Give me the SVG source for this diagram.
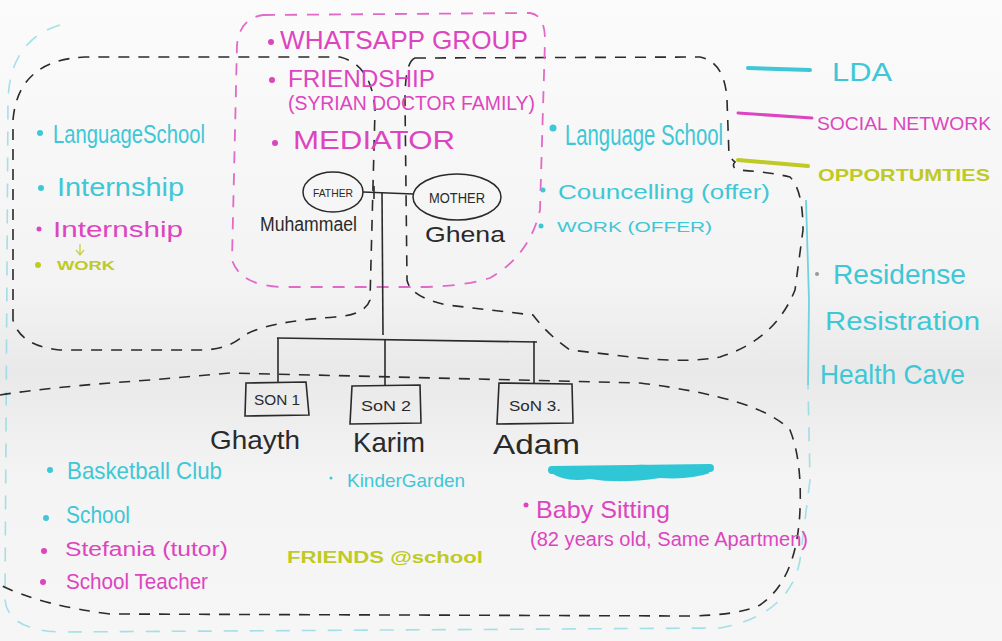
<svg xmlns="http://www.w3.org/2000/svg" width="1002" height="641" viewBox="0 0 1002 641">
<defs>
<linearGradient id="bg" x1="0" y1="0" x2="0" y2="1">
<stop offset="0" stop-color="#fbfbfb"/>
<stop offset="0.45" stop-color="#f3f3f3"/>
<stop offset="0.58" stop-color="#e9e9e9"/>
<stop offset="0.75" stop-color="#f4f4f4"/>
<stop offset="1" stop-color="#f6f6f6"/>
</linearGradient>
<style>
text{font-family:"Liberation Sans","DejaVu Sans",sans-serif;}
.c{fill:#3ec7d6;}
.p{fill:#dd45c0;}
.o{fill:#bfca24;}
.k{fill:#2a2a2a;}
.mid{text-anchor:middle;}
.dk{fill:none;stroke:#2a2a2a;stroke-width:1.6;stroke-dasharray:11 9;}
.dp{fill:none;stroke:#e06ac8;stroke-width:1.8;stroke-dasharray:12 10;}
.dc{fill:none;stroke:#7fd6e0;stroke-width:1.6;stroke-dasharray:14 12;opacity:0.7;}
.ln{fill:none;stroke:#2a2a2a;stroke-width:1.6;}
.box{fill:none;stroke:#2a2a2a;stroke-width:1.6;}
</style>
</defs>
<rect x="0" y="0" width="1002" height="641" fill="url(#bg)"/>

<g id="connectors">
<!-- outer LDA outline -->
<path class="dc" d="M60,25 Q10,40 8,100 L5,600 Q8,630 60,632 L720,628 Q790,615 800,560 L810,480 L808,385"/>
<path d="M806,200 L809,300 L808,385" fill="none" stroke="#6fd3de" stroke-width="1.8"/>
<!-- left (father) blob -->
<path class="dk" d="M13,320 L13,120 Q18,60 85,57 L340,57 Q372,65 375,110 L370,300 Q365,315 335,317 Q265,322 243,336 Q228,350 200,350 L60,350 Q20,346 13,320 Z"/>
<!-- right (mother) blob -->
<path class="dk" d="M415,58 L700,57 Q725,62 727,100 L729,155 Q732,160 735,162 Q731,166 737,170 Q770,172 790,177 Q803,190 803,230 L795,290 Q775,340 720,357 Q690,363 640,358 L570,350 Q548,335 533,315 L447,305 Q410,297 407,280 L405,100 Q405,62 415,58 Z"/>
<!-- sons blob -->
<path class="dk" d="M0,395 Q50,387 150,380 L230,373 L640,383 Q760,398 790,430 Q802,460 800,510 Q797,580 760,605 Q740,615 690,616 L110,614 Q40,605 0,585"/>
<!-- social network box -->
<path class="dp" d="M263,15 L530,13 Q545,15 545,40 L540,210 Q530,255 490,278 Q460,287 420,287 L280,287 Q240,285 232,260 L237,45 Q240,18 263,15 Z"/>
<!-- family tree lines -->
<path class="ln" d="M363,192 L413,194"/>
<path class="ln" d="M374,186 L374,199"/>
<path class="ln" d="M382,193 L383,335"/>
<path class="ln" d="M277,338 L537,342"/>
<path class="ln" d="M278,338 L278,383"/>
<path class="ln" d="M385,339 L385,386"/>
<path class="ln" d="M534,341 L534,383"/>
<!-- legend lines -->
<path d="M748,68 L810,70" stroke="#3ec7d6" stroke-width="4" stroke-linecap="round"/>
<path d="M738,113 L812,118" stroke="#dd45c0" stroke-width="3" stroke-linecap="round"/>
<path d="M738,160 L808,166" stroke="#bfca24" stroke-width="4" stroke-linecap="round"/>
<!-- small arrow internship -> work -->
<path d="M80,244 L80,254 M76,250 L80,255 L84,250" fill="none" stroke="#c9cf4a" stroke-width="1.3"/>
<!-- crossed out text scribble -->
<path d="M550,472 Q580,462 610,469 Q640,461 670,468 Q695,463 710,473 Q690,480 660,478 Q620,484 590,479 Q565,483 550,472 Z" fill="#2fc6d6"/>
<path d="M552,470 L710,468" stroke="#2fc6d6" stroke-width="8" stroke-linecap="round"/>
</g>

<g id="father">
<ellipse cx="333" cy="192" rx="30" ry="20" fill="none" stroke="#2a2a2a" stroke-width="1.5"/>
<text class="k mid" x="333" y="197" font-size="11" textLength="40" lengthAdjust="spacingAndGlyphs">FATHER</text>
<text class="k" x="260" y="231" font-size="20" textLength="97" lengthAdjust="spacingAndGlyphs">Muhammael</text>
</g>
<g id="mother">
<ellipse cx="457" cy="197" rx="44" ry="23" fill="none" stroke="#2a2a2a" stroke-width="1.5"/>
<text class="k mid" x="457" y="203" font-size="15" textLength="56" lengthAdjust="spacingAndGlyphs">MOTHER</text>
<text class="k" x="425" y="242" font-size="22" textLength="80" lengthAdjust="spacingAndGlyphs">Ghena</text>
</g>
<g id="son1">
<path class="box" d="M246,383 L306,382 L309,415 L245,416 Z"/>
<text class="k mid" x="277" y="405" font-size="14" textLength="46" lengthAdjust="spacingAndGlyphs">SON 1</text>
<text class="k" x="210" y="449" font-size="26" textLength="90" lengthAdjust="spacingAndGlyphs">Ghayth</text>
</g>
<g id="son2">
<path class="box" d="M352,386 L420,385 L421,423 L350,424 Z"/>
<text class="k mid" x="386" y="411" font-size="15" textLength="50" lengthAdjust="spacingAndGlyphs">SoN 2</text>
<text class="k" x="353" y="452" font-size="28" textLength="72" lengthAdjust="spacingAndGlyphs">Karim</text>
</g>
<g id="son3">
<path class="box" d="M499,383 L572,384 L573,423 L497,424 Z"/>
<text class="k mid" x="535" y="411" font-size="15" textLength="52" lengthAdjust="spacingAndGlyphs">SoN 3.</text>
<text class="k" x="493" y="454" font-size="28" textLength="87" lengthAdjust="spacingAndGlyphs">Adam</text>
</g>

<g id="father-network">
<circle class="c" cx="40" cy="133" r="3"/>
<text class="c" x="53" y="143" font-size="26" textLength="152" lengthAdjust="spacingAndGlyphs">LanguageSchool</text>
<circle class="c" cx="41" cy="188" r="3"/>
<text class="c" x="57" y="196" font-size="26" textLength="127" lengthAdjust="spacingAndGlyphs">Internship</text>
<circle class="p" cx="39" cy="229" r="2.5"/>
<text class="p" x="53" y="237" font-size="22" textLength="130" lengthAdjust="spacingAndGlyphs">Internship</text>
<circle class="o" cx="38" cy="265" r="3"/>
<text class="o" x="57" y="270" font-size="12" font-weight="bold" textLength="58" lengthAdjust="spacingAndGlyphs">WORK</text>
</g>

<g id="social-network">
<circle class="p" cx="271" cy="42" r="3"/>
<text class="p" x="280" y="49" font-size="26" textLength="248" lengthAdjust="spacingAndGlyphs">WHATSAPP GROUP</text>
<circle class="p" cx="272" cy="80" r="3"/>
<text class="p" x="288" y="87" font-size="24" textLength="147" lengthAdjust="spacingAndGlyphs">FRIENDSHIP</text>
<text class="p" x="288" y="110" font-size="20" textLength="247" lengthAdjust="spacingAndGlyphs">(SYRIAN DOCTOR FAMILY)</text>
<circle class="p" cx="275" cy="143" r="3"/>
<text class="p" x="293" y="149" font-size="26" textLength="162" lengthAdjust="spacingAndGlyphs">MEDIATOR</text>
</g>

<g id="mother-network">
<circle class="c" cx="553" cy="128" r="3.5"/>
<text class="c" x="565" y="145" font-size="30" textLength="158" lengthAdjust="spacingAndGlyphs">Language School</text>
<circle class="c" cx="543" cy="190" r="2.5"/>
<text class="c" x="558" y="199" font-size="20" textLength="212" lengthAdjust="spacingAndGlyphs">Councelling (offer)</text>
<circle class="c" cx="541" cy="226" r="2.5"/>
<text class="c" x="557" y="232" font-size="15" textLength="155" lengthAdjust="spacingAndGlyphs">WORK (OFFER)</text>
</g>

<g id="legend">
<text class="c" x="832" y="81" font-size="26" textLength="60" lengthAdjust="spacingAndGlyphs">LDA</text>
<text class="p" x="817" y="130" font-size="19" textLength="174" lengthAdjust="spacingAndGlyphs">SOCIAL NETWORK</text>
<text class="o" x="818" y="181" font-size="17" font-weight="bold" textLength="172" lengthAdjust="spacingAndGlyphs">OPPORTUMTIES</text>
</g>

<g id="lda-services">
<circle cx="817" cy="274" r="2" fill="#999"/>
<text class="c" x="833" y="284" font-size="28" textLength="133" lengthAdjust="spacingAndGlyphs">Residense</text>
<text class="c" x="825" y="330" font-size="26" textLength="155" lengthAdjust="spacingAndGlyphs">Resistration</text>
<text class="c" x="820" y="384" font-size="28" textLength="145" lengthAdjust="spacingAndGlyphs">Health Cave</text>
</g>

<g id="sons-network">
<circle class="c" cx="50" cy="470" r="3"/>
<text class="c" x="67" y="479" font-size="24" textLength="155" lengthAdjust="spacingAndGlyphs">Basketball Club</text>
<circle class="c" cx="46" cy="518" r="3"/>
<text class="c" x="66" y="523" font-size="24" textLength="64" lengthAdjust="spacingAndGlyphs">School</text>
<circle class="p" cx="44" cy="551" r="3"/>
<text class="p" x="65" y="556" font-size="20" textLength="163" lengthAdjust="spacingAndGlyphs">Stefania (tutor)</text>
<circle class="p" cx="43" cy="582" r="3"/>
<text class="p" x="66" y="589" font-size="22" textLength="142" lengthAdjust="spacingAndGlyphs">School Teacher</text>
<circle class="c" cx="331" cy="478" r="1.5"/>
<text class="c" x="347" y="487" font-size="19" textLength="118" lengthAdjust="spacingAndGlyphs">KinderGarden</text>
<text class="o" x="287" y="563" font-size="16" font-weight="bold" textLength="196" lengthAdjust="spacingAndGlyphs">FRIENDS @school</text>
<circle class="p" cx="526" cy="505" r="2.5"/>
<text class="p" x="536" y="518" font-size="24" textLength="134" lengthAdjust="spacingAndGlyphs">Baby Sitting</text>
<text class="p" x="530" y="546" font-size="20" textLength="278" lengthAdjust="spacingAndGlyphs">(82 years old, Same Apartmen)</text>
</g>
</svg>
